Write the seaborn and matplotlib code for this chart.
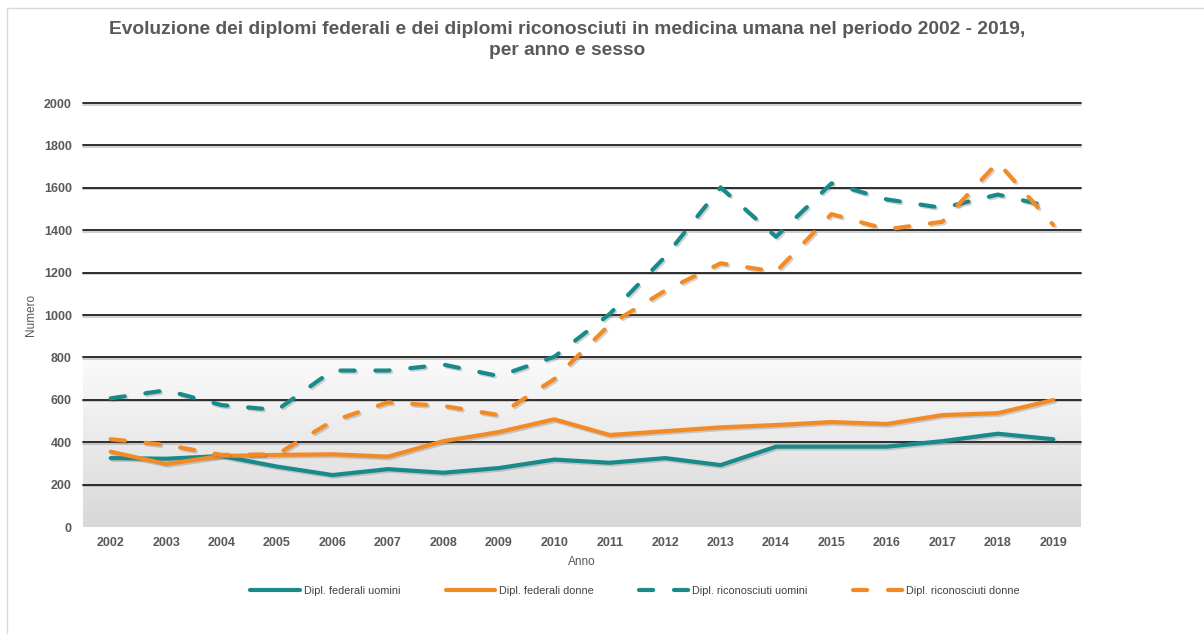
import numpy as np
import pandas as pd
import matplotlib
matplotlib.use("Agg")
import matplotlib.pyplot as plt
import matplotlib.patheffects as pe
from matplotlib.lines import Line2D
from matplotlib.colors import LinearSegmentedColormap
import seaborn as sns

years = list(range(2002, 2020))
fed_uomini = [325, 322, 335, 285, 245, 273, 256, 278, 318, 303, 325, 292, 379, 379, 379, 405, 440, 414]
fed_donne = [355, 297, 335, 340, 343, 332, 405, 448, 508, 434, 452, 470, 481, 495, 486, 528, 537, 599]
ric_uomini = [607, 645, 575, 552, 738, 738, 766, 712, 803, 1005, 1275, 1602, 1369, 1621, 1545, 1505, 1568, 1508]
ric_donne = [414, 387, 340, 343, 500, 588, 571, 528, 698, 955, 1115, 1244, 1204, 1476, 1404, 1440, 1720, 1425]
series_names = ["Dipl. federali uomini", "Dipl. federali donne",
                "Dipl. riconosciuti uomini", "Dipl. riconosciuti donne"]
yticks = [0, 200, 400, 600, 800, 1000, 1200, 1400, 1600, 1800, 2000]

sns.set_theme(style="white")
plt.rcParams['font.family'] = ['Liberation Sans', 'DejaVu Sans']

TEAL = "#198a8a"
ORANGE = "#f28a26"
colors = [TEAL, ORANGE, TEAL, ORANGE]
dashed = [False, False, True, True]

fig = plt.figure(figsize=(12.04, 6.34), dpi=100)
ax = fig.add_axes([83/1204, 1-527/634, (1081-83)/1204, (527-103)/634])

# gradient background in lower part
grad = np.linspace(0, 1, 256).reshape(-1, 1)
cmap = LinearSegmentedColormap.from_list("g", ["#d8d8d8", "#fbfbfb"])
ax.imshow(grad, extent=(2001.5, 2019.5, 0, 800), origin="lower", aspect="auto",
          cmap=cmap, zorder=0, interpolation="bicubic")

# gridlines
for yv in yticks[1:]:
    ax.axhline(yv, color="#1e1e1e", lw=1.3, zorder=1, clip_on=False,
               path_effects=[pe.SimpleLineShadow(offset=(0, -1.2), shadow_color="#9a9a9a", alpha=0.5), pe.Normal()])

df = pd.DataFrame({"Anno": years * 4,
                   "Numero": fed_uomini + fed_donne + ric_uomini + ric_donne,
                   "Serie": sum([[n] * len(years) for n in series_names], [])})

shadow = [pe.SimpleLineShadow(offset=(1.2, -1.2), shadow_color="#555555", alpha=0.25), pe.Normal()]
for name, c, d in zip(series_names, colors, dashed):
    sub = df[df["Serie"] == name]
    sns.lineplot(data=sub, x="Anno", y="Numero", ax=ax, color=c, lw=3.0, zorder=3,
                 legend=False)
    ln = ax.lines[-1]
    ln.set_solid_capstyle("round")
    ln.set_dash_capstyle("round")
    ln.set_solid_joinstyle("round")
    ln.set_path_effects(shadow)
    if d:
        ln.set_dashes((3.4, 5.0))

ax.set_xlim(2001.5, 2019.5)
ax.set_ylim(0, 2000)
ax.set_xticks(years)
ax.set_xticklabels([str(y) for y in years], fontsize=9, fontweight="bold", color="#595959")
ax.set_yticks(yticks)
ax.set_yticklabels([str(v) for v in yticks], fontsize=9, fontweight="bold", color="#595959")
ax.tick_params(axis="both", length=0)
ax.tick_params(axis="x", pad=7)
ax.tick_params(axis="y", pad=8)
for s in ax.spines.values():
    s.set_visible(False)
ax.set_xlabel("Anno", fontsize=8.5, color="#595959", labelpad=5)
ax.set_ylabel("Numero", fontsize=8.5, color="#595959", labelpad=5)

fig.text(567/1204, 1-21/634,
         "Evoluzione dei diplomi federali e dei diplomi riconosciuti in medicina umana nel periodo 2002 - 2019,\nper anno e sesso",
         ha="center", va="top", fontsize=13.8, fontweight="bold", color="#595959", linespacing=1.3)

handles = []
for name, c, d in zip(series_names, colors, dashed):
    h = Line2D([], [], color=c, lw=3.0, solid_capstyle="round", dash_capstyle="round")
    if d:
        h.set_dashes((3.4, 5.0))
    handles.append(h)
leg = fig.legend(handles, series_names, loc="center", bbox_to_anchor=(635/1204, 1-591/634),
                 ncol=4, frameon=False, fontsize=7.8, handlelength=4.6, handletextpad=0.3,
                 columnspacing=4.2)
for t in leg.get_texts():
    t.set_color("#404040")

# outer chart frame (left and top)
fig.add_artist(Line2D([7/1204, 7/1204], [0, 1-8/634], transform=fig.transFigure, color="#d9d9d9", lw=1))
fig.add_artist(Line2D([7/1204, 1], [1-8/634, 1-8/634], transform=fig.transFigure, color="#d9d9d9", lw=1))

fig.savefig("out.png", dpi=100)
